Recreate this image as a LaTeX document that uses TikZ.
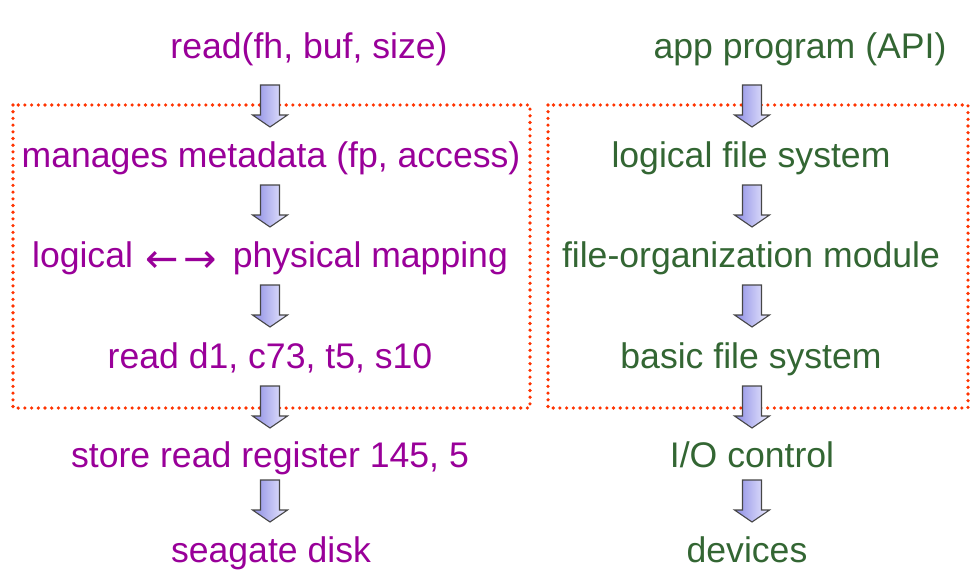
\documentclass[tikz,border=0pt]{standalone}
\usepackage{fontspec}
\setmainfont{Liberation Sans}
\newfontfamily\dejavu{DejaVu Sans}
\definecolor{purp}{RGB}{153,0,153}
\definecolor{grn}{RGB}{51,102,51}
\definecolor{dotred}{RGB}{255,51,0}
\definecolor{arrL}{RGB}{140,140,228}
\definecolor{arrR}{RGB}{236,236,255}
\definecolor{arrE}{RGB}{70,70,70}
\newcommand\bigarr[1]{\raisebox{-4.5pt}{\scalebox{1.12}{\dejavu #1}}}
\tikzset{
  lbl/.style={anchor=base, inner sep=0pt, font=\fontsize{35.6}{42}\selectfont},
  ltxt/.style={lbl, text=purp},
  rtxt/.style={lbl, text=grn},
  dotbox/.style={draw=dotred, line width=3.6pt, line cap=round, dash pattern=on 0pt off 6.7pt},
  barrow/.pic={\shade[left color=arrL, right color=arrR, draw=arrE, line width=1.1pt, line join=miter]
     (-9.5,0) -- (9.5,0) -- (9.5,30) -- (17.5,30) -- (0,42) -- (-17.5,30) -- (-9.5,30) -- cycle;}
}
\begin{document}
\begin{tikzpicture}[x=1pt,y=-1pt]
\useasboundingbox (0,0) rectangle (980,578);
% dotted boxes
\draw[dotbox] (13,105) rectangle (530,408);
\draw[dotbox] (548,105) rectangle (968,408);
% left column
\node[ltxt] (l1) at (309,58.5) {read(fh, buf, size)};
\node[ltxt] (l2) at (271,167.5) {manages metadata (fp, access)};
\node[ltxt] (l3) at (270,267.5) {logical\hspace{12pt}\bigarr{←}\hspace{5pt}\bigarr{→}\hspace{16pt}physical mapping};
\node[ltxt] (l4) at (270,368.5) {read d1, c73, t5, s10};
\node[ltxt] (l5) at (270,467.5) {store read register 145, 5};
\node[ltxt] (l6) at (271,562.5) {seagate disk};
% right column
\node[rtxt] (r1) at (800,58.5) {app program (API)};
\node[rtxt] (r2) at (751,167.5) {logical file system};
\node[rtxt] (r3) at (751,267.5) {file-organization module};
\node[rtxt] (r4) at (751,368.5) {basic file system};
\node[rtxt] (r5) at (752,467.5) {I/O control};
\node[rtxt] (r6) at (747,562.5) {devices};
% arrow anchors
\foreach \n/\y in {1/85,2/185,3/285,4/386,5/480}{
  \coordinate (la\n) at (270,\y);
  \coordinate (ra\n) at (752,\y);
  \pic at (la\n) {barrow};
  \pic at (ra\n) {barrow};
}
\end{tikzpicture}
\end{document}
